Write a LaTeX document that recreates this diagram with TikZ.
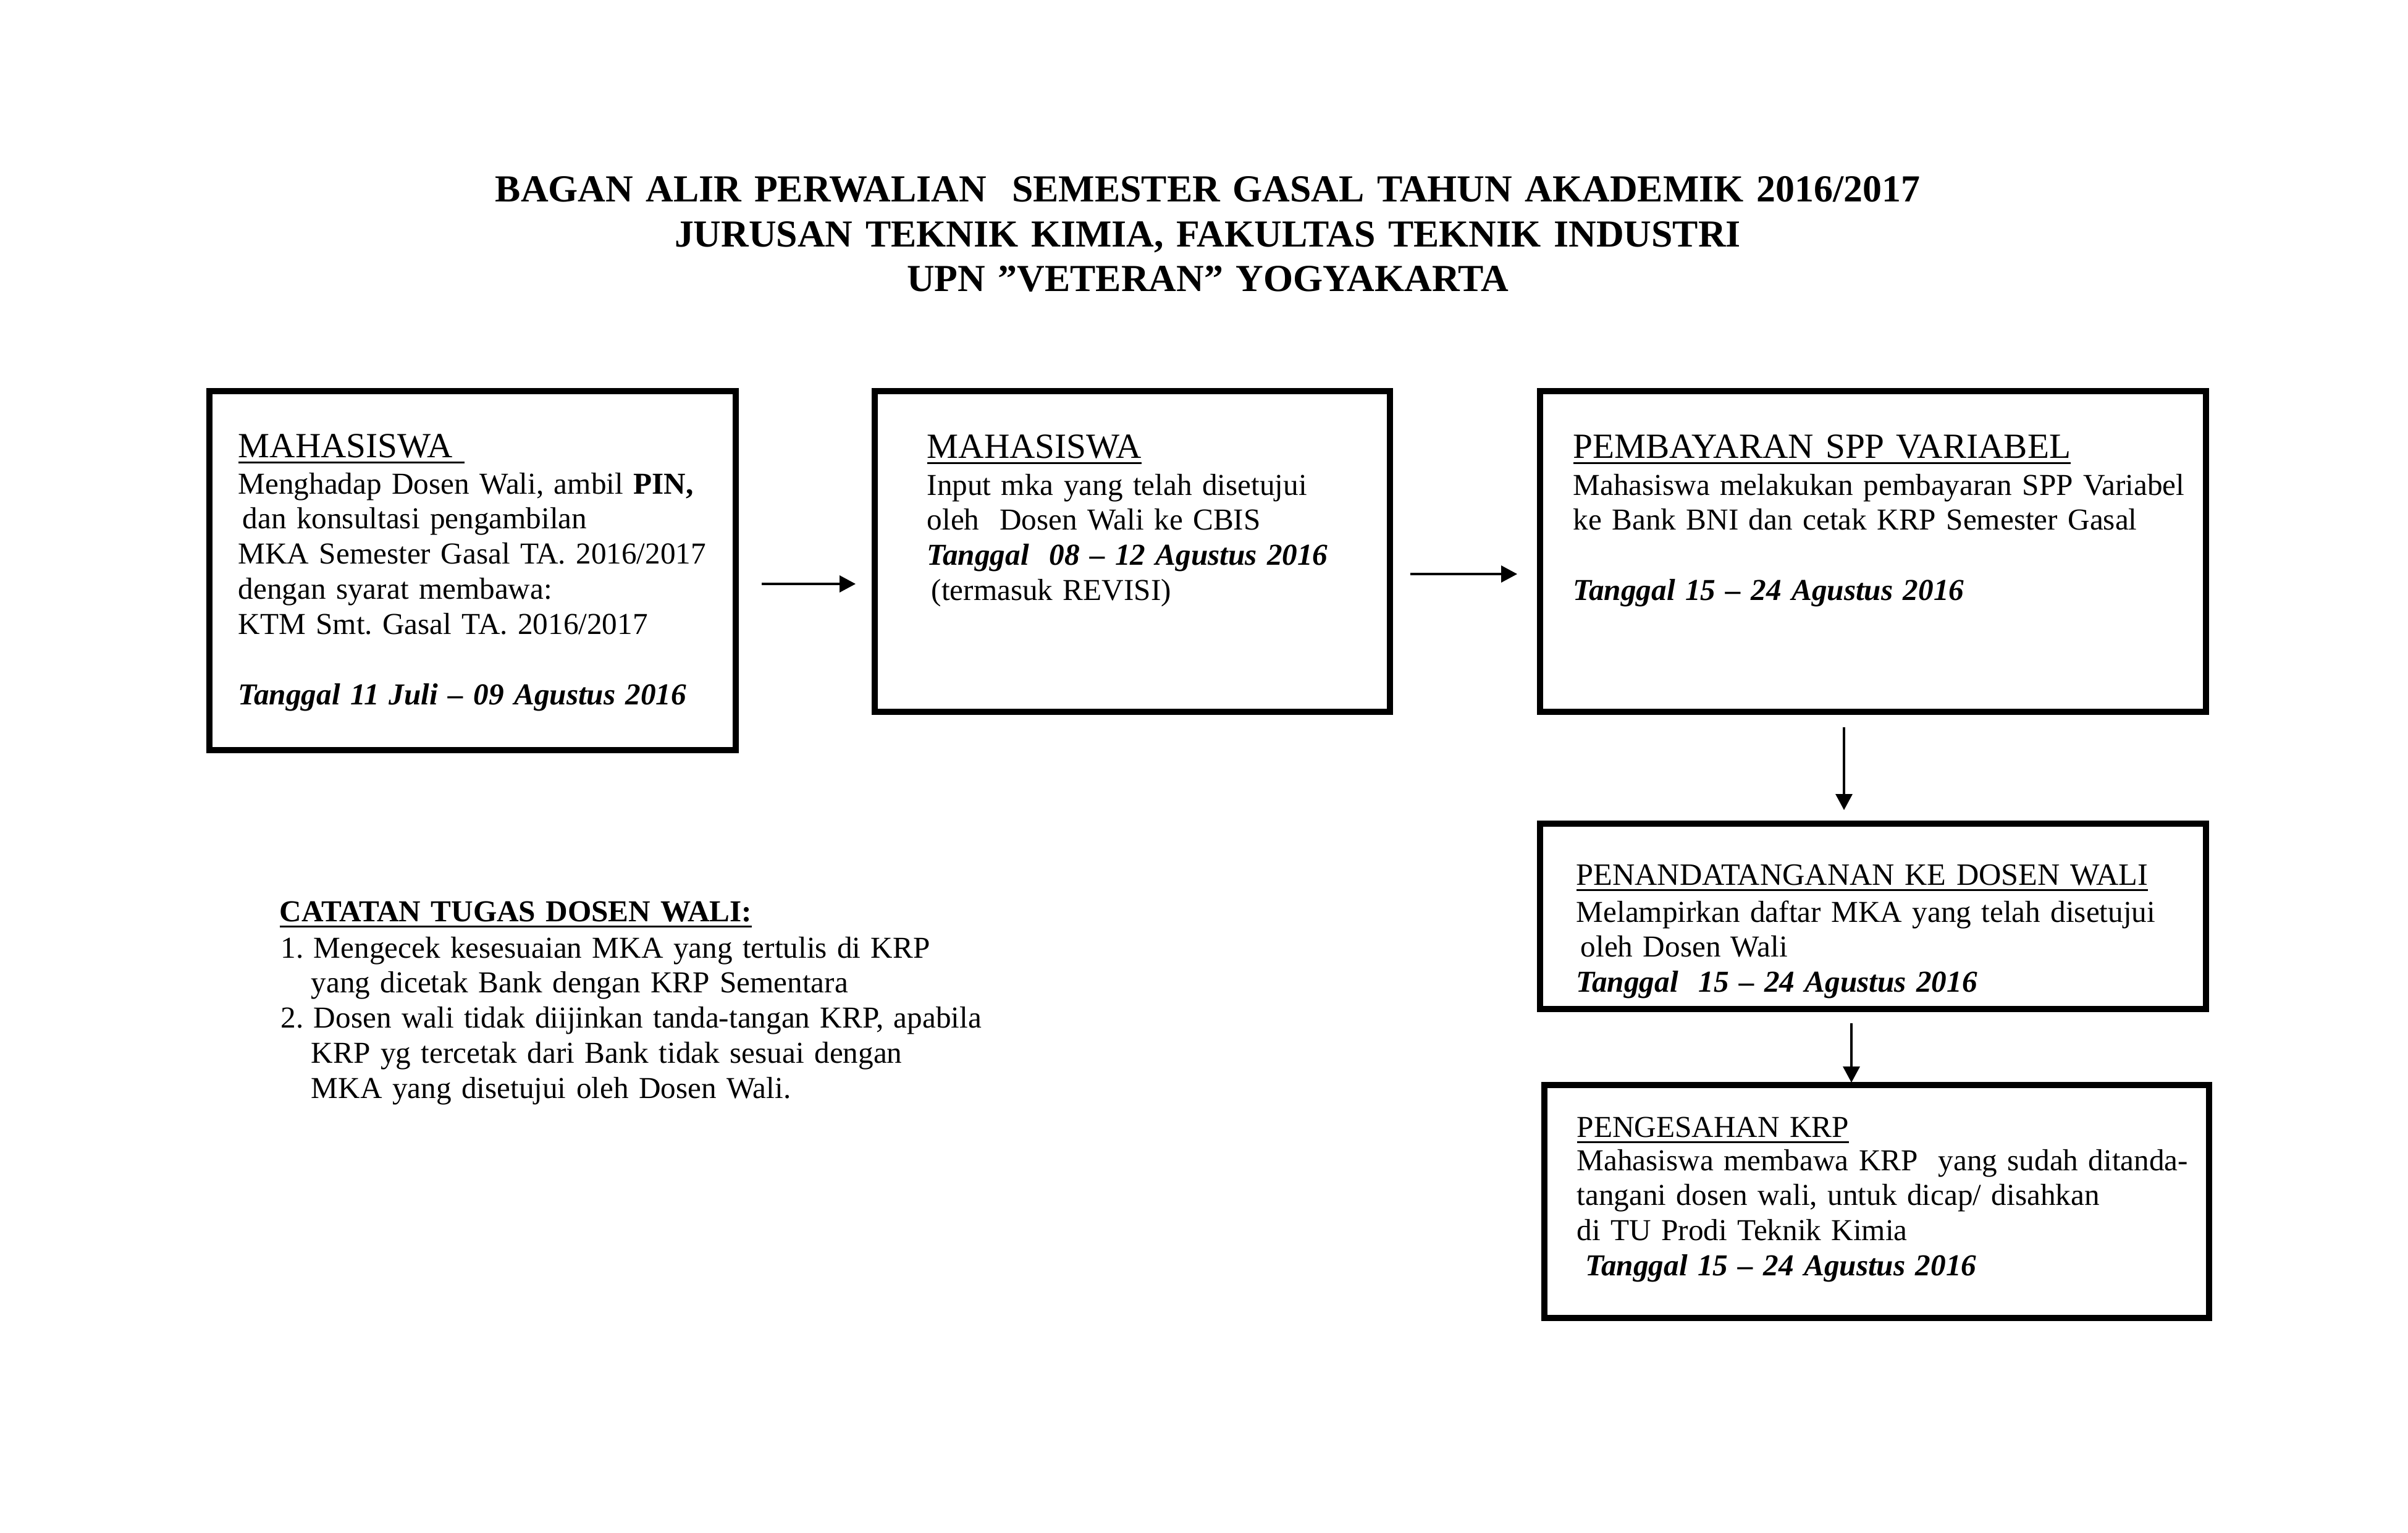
\documentclass[tikz,border=0pt]{standalone}
\usepackage{fontspec}
\setmainfont{Liberation Serif}
\usetikzlibrary{arrows.meta}

\newcommand\garis[1]{\setbox0\hbox{#1}\rlap{\vrule height -1.85pt depth 2.95pt width \wd0}\box0}
\newcommand\isi{\fontsize{14}{16.2}\selectfont}
\frenchspacing

\begin{document}
\begin{tikzpicture}[
  kotak/.style={draw, line width=2.85pt, inner sep=0pt, outer sep=0pt},
  teks/.style={anchor=base west, inner sep=0pt, text width=13cm, align=left, font=\isi},
  panah/.style={line width=0.95pt, -{Triangle[length=0.26cm, width=0.27cm]}}
]
  \useasboundingbox (0,0) rectangle (38.98,-24.80);
  % judul
  \node[anchor=base, inner sep=0pt, text width=30cm, align=center, font=\fontsize{17.6}{20.6}\selectfont\bfseries] (judul) at (19.55,-3.27) {BAGAN ALIR PERWALIAN\ \ SEMESTER GASAL TAHUN AKADEMIK 2016/2017\\ JURUSAN TEKNIK KIMIA, FAKULTAS TEKNIK INDUSTRI\\ UPN ''VETERAN'' YOGYAKARTA};

  % kotak alur
  \node[kotak, minimum width=8.52cm, minimum height=5.81cm] (mhs1) at (7.65,-9.235) {};
  \node[kotak, minimum width=8.34cm, minimum height=5.19cm] (mhs2) at (18.33,-8.925) {};
  \node[kotak, minimum width=10.78cm, minimum height=5.19cm] (spp) at (30.32,-8.925) {};
  \node[kotak, minimum width=10.78cm, minimum height=3.00cm] (ttd) at (30.32,-14.83) {};
  \node[kotak, minimum width=10.76cm, minimum height=3.77cm] (sah) at (30.38,-19.445) {};

  % isi kotak 1
  \node[teks, font=\fontsize{16.3}{18}\selectfont] (mhs1h) at (3.85,-7.40) {\garis{MAHASISWA\ }};
  \node[teks] (mhs1t) at (3.85,-7.99) {Menghadap Dosen Wali, ambil \textbf{PIN,}\\ \hspace*{2pt}dan konsultasi pengambilan\\ MKA Semester Gasal TA. 2016/2017\\ dengan syarat membawa:\\ KTM Smt. Gasal TA. 2016/2017\\[16.2pt] \textbf{\textit{Tanggal 11 Juli -- 09 Agustus 2016}}};

  % isi kotak 2
  \node[teks, font=\fontsize{16.3}{18}\selectfont] (mhs2h) at (15.00,-7.41) {\garis{MAHASISWA}};
  \node[teks] (mhs2t) at (15.00,-8.01) {Input mka yang telah disetujui\\ oleh\ \ Dosen Wali ke CBIS\\ \textbf{\textit{Tanggal\ \ 08 -- 12 Agustus 2016}}\\ \hspace*{2pt}(termasuk REVISI)};

  % isi kotak 3
  \node[teks, font=\fontsize{16.3}{18}\selectfont] (spph) at (25.46,-7.41) {\garis{PEMBAYARAN SPP VARIABEL}};
  \node[teks] (sppt) at (25.46,-8.01) {Mahasiswa melakukan pembayaran SPP Variabel\\ ke Bank BNI dan cetak KRP Semester Gasal\\[16.2pt] \textbf{\textit{Tanggal 15 -- 24 Agustus 2016}}};

  % isi kotak 4
  \node[teks, font=\fontsize{14.3}{17}\selectfont] (ttdh) at (25.51,-14.32) {\garis{PENANDATANGANAN KE DOSEN WALI}};
  \node[teks] (ttdt) at (25.51,-14.92) {Melampirkan daftar MKA yang telah disetujui\\ \hspace*{2pt}oleh Dosen Wali\\ \textbf{\textit{Tanggal\ \ 15 -- 24 Agustus 2016}}};

  % isi kotak 5
  \node[teks] (sahh) at (25.52,-18.40) {\garis{PENGESAHAN KRP}};
  \node[teks] (saht) at (25.52,-18.94) {Mahasiswa membawa KRP\ \ yang sudah ditanda-\\ tangani dosen wali, untuk dicap/ disahkan\\ di TU Prodi Teknik Kimia\\ \hspace*{4pt}\textbf{\textit{Tanggal 15 -- 24 Agustus 2016}}};

  % catatan
  \node[teks, font=\isi\bfseries] (cttj) at (4.52,-14.91) {\garis{CATATAN TUGAS DOSEN WALI:}};
  \node[teks] (ctt) at (4.54,-15.50) {1. Mengecek kesesuaian MKA yang tertulis di KRP\\ \hspace*{14pt}yang dicetak Bank dengan KRP Sementara\\ 2. Dosen wali tidak diijinkan tanda-tangan KRP, apabila\\ \hspace*{14pt}KRP yg tercetak dari Bank tidak sesuai dengan\\ \hspace*{14pt}MKA yang disetujui oleh Dosen Wali.};

  % panah
  \coordinate (ya) at (0,-9.45);
  \coordinate (yb) at (0,-9.29);
  \coordinate (xc) at (29.85,0);
  \coordinate (xd) at (29.97,0);
  \draw[panah, shorten <=0.42cm, shorten >=0.31cm] (mhs1.east |- ya) -- (mhs2.west |- ya);
  \draw[panah, shorten <=0.33cm, shorten >=0.37cm] (mhs2.east |- yb) -- (spp.west |- yb);
  \draw[panah, shorten <=0.25cm, shorten >=0.22cm] (spp.south -| xc) -- (ttd.north -| xc);
  \draw[panah, shorten <=0.23cm, shorten >=0.04cm] (ttd.south -| xd) -- (sah.north -| xd);
\end{tikzpicture}
\end{document}
